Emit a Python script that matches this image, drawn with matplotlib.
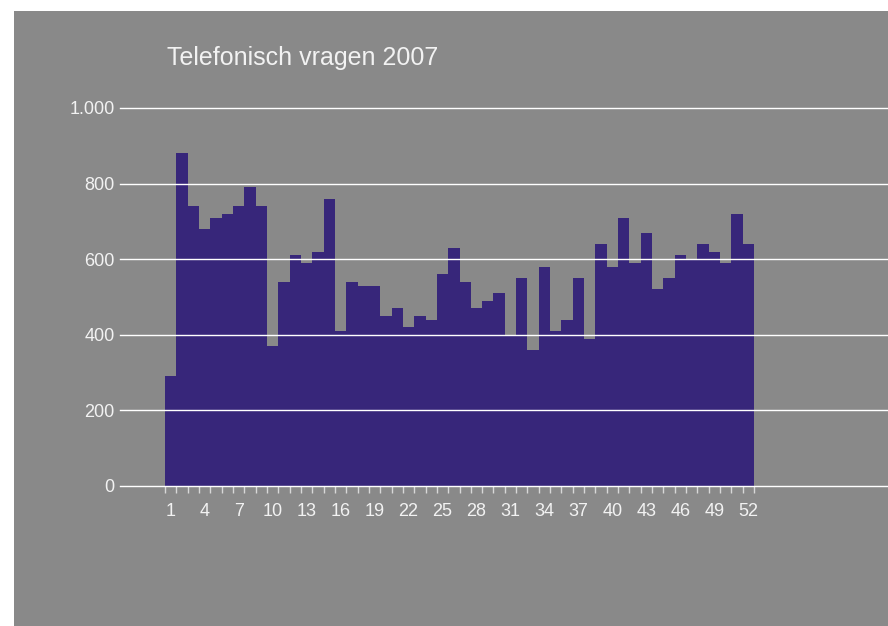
import matplotlib.pyplot as plt
from matplotlib.patches import Rectangle
from matplotlib.ticker import FixedLocator

# --- data ---
weeks = list(range(1, 53))
calls = [290, 880, 740, 680, 710, 720, 740, 790, 740, 370,
         540, 610, 590, 620, 760, 410, 540, 530, 530, 450,
         470, 420, 450, 440, 560, 630, 540, 470, 490, 510,
         400, 550, 360, 580, 410, 440, 550, 390, 640, 580,
         710, 590, 670, 520, 550, 610, 600, 640, 620, 590,
         720, 640]
week_labels = [1, 4, 7, 10, 13, 16, 19, 22, 25, 28, 31, 34, 37, 40, 43, 46, 49, 52]
y_ticks = [0, 200, 400, 600, 800, 1000]
y_tick_labels = ['0', '200', '400', '600', '800', '1.000']

BG = '#898989'
BAR = '#37267a'
TXT = '#f2f2f2'

plt.rcParams['font.family'] = ['Liberation Sans', 'DejaVu Sans']

fig = plt.figure(figsize=(8.88, 6.26), dpi=100, facecolor='white')
# grey panel with white margin top/left
fig.patches.append(Rectangle((14 / 888, 0), 1 - 14 / 888, 1 - 11 / 626,
                             transform=fig.transFigure, facecolor=BG,
                             edgecolor='none', zorder=-10))

ax = fig.add_axes([120 / 888, 140 / 626, 768 / 888, 378 / 626])
ax.set_facecolor('none')
ax.bar(weeks, calls, width=1.0, color=BAR, edgecolor='none', zorder=2)

ax.set_xlim(0.5 - 45 / 11.327, 52.5 + 134 / 11.327)
ax.set_ylim(0, 1000)

for y in y_ticks:
    ax.axhline(y, color='white', lw=1.0, zorder=3, clip_on=False)

for s in ax.spines.values():
    s.set_visible(False)

ax.set_yticks(y_ticks)
ax.set_yticklabels(y_tick_labels)
ax.tick_params(axis='y', length=0, pad=4, labelsize=13, labelcolor=TXT)

ax.set_xticks(week_labels)
ax.set_xticklabels([str(w) for w in week_labels])
ax.tick_params(axis='x', which='major', length=0, pad=12, labelsize=13, labelcolor=TXT)
ax.xaxis.set_minor_locator(FixedLocator([w - 0.5 for w in weeks] + [52.5]))
ax.tick_params(axis='x', which='minor', length=5, width=1, color='#d8d8d8', direction='out')

fig.text(167 / 888, 1 - 65 / 626, 'Telefonisch vragen 2007', color=TXT,
         fontsize=18, ha='left', va='baseline')

fig.savefig('out.png', dpi=100, facecolor='white')
